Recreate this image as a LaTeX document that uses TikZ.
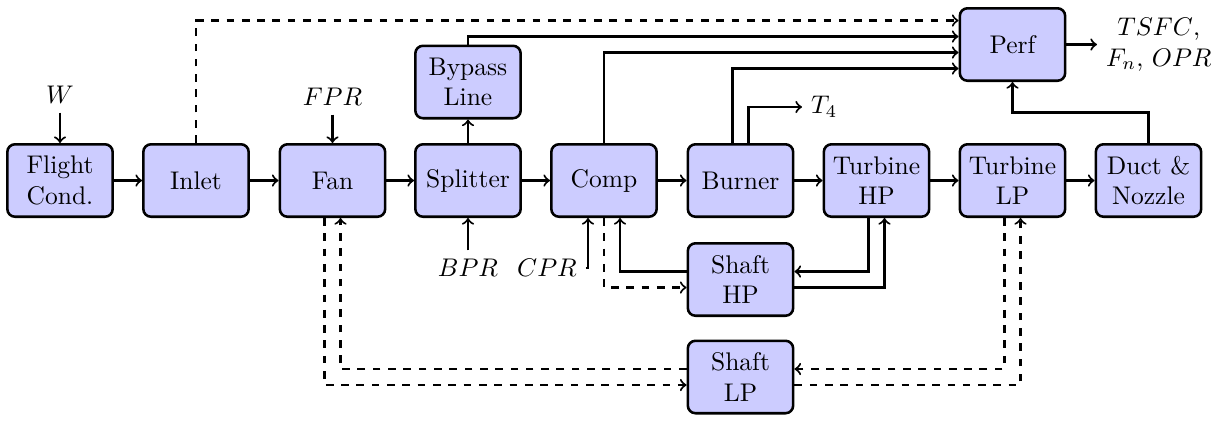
\documentclass[tikz,border=0pt]{standalone}
\usetikzlibrary{calc}
\begin{document}
\begin{tikzpicture}[x=0.392pt,y=-0.392pt,
  blk/.style={draw, line width=1pt, fill=blue!20, rounded corners=3pt,
    minimum width=41.3pt, minimum height=28.4pt, align=center, inner sep=2pt},
  conn/.style={line width=0.8pt, ->},
  lbl/.style={inner sep=3.33pt}]
\useasboundingbox (0,0) rectangle (1228,422);
% main row
\node[blk] (flight) at (60,180.5) {Flight\\Cond.};
\node[blk] (inlet) at (196,180.5) {Inlet};
\node[blk] (fan) at (332.5,180.5) {Fan};
\node[blk] (split) at (468,180.5) {Splitter};
\node[blk] (comp) at (604,180.5) {Comp};
\node[blk] (burner) at (740.5,180.5) {Burner};
\node[blk] (thp) at (876.5,180.5) {Turbine\\HP};
\node[blk] (tlp) at (1012.5,180.5) {Turbine\\LP};
\node[blk] (duct) at (1148.5,180.5) {Duct \&\\Nozzle};
% others
\node[blk] (bypass) at (468,82) {Bypass\\Line};
\node[blk] (perf) at (1012.5,44.5) {Perf};
\node[blk] (shp) at (740.5,279.5) {Shaft\\HP};
\node[blk] (slp) at (740.5,377) {Shaft\\LP};
% labels
\node[lbl] (w) at (60,95) {$W$};
\node[lbl] (fpr) at (332.5,97) {$FPR$};
\node[lbl] (bpr) at (468,268) {$BPR$};
\node[lbl] (cpr) at (547,268) {$CPR$};
\node[lbl, anchor=west] (t4) at (802,107) {$T_4$};
\node[lbl, anchor=west, align=center] (out) at (1097,44.5) {$TSFC$,\\ $F_n$, $OPR$};
% main flow
\draw[conn] (w) -- (flight);
\draw[conn] (fpr) -- (fan);
\draw[conn] (flight) -- (inlet);
\draw[conn] (inlet) -- (fan);
\draw[conn] (fan) -- (split);
\draw[conn] (split) -- (comp);
\draw[conn] (comp) -- (burner);
\draw[conn] (burner) -- (thp);
\draw[conn] (thp) -- (tlp);
\draw[conn] (tlp) -- (duct);
\draw[conn] (split) -- (bypass);
% to perf
\draw[conn, dashed] (inlet.north) |- ($(perf.west)+(0,-24)$);
\draw[conn] (bypass.north) |- ($(perf.west)+(0,-8)$);
\draw[conn] (comp.north) |- ($(perf.west)+(0,8)$);
\draw[conn] ($(burner.north)+(-8,0)$) |- ($(perf.west)+(0,24)$);
\draw[conn] ($(burner.north)+(8,0)$) |- (t4.west);
\draw[conn] (perf) -- (out);
\draw[conn] (duct.north) -- ++(0,-30.5) -| (perf.south);
% inputs below
\draw[conn] (bpr) -- (split);
\draw[conn] (cpr.east) -| ($(comp.south)+(-16,0)$);
% HP shaft
\draw[conn, dashed] (comp.south) |- ($(shp.west)+(0,8)$);
\draw[conn] ($(shp.west)+(0,-8)$) -| ($(comp.south)+(16,0)$);
\draw[conn] ($(thp.south)+(-8,0)$) |- ($(shp.east)+(0,-8)$);
\draw[conn] ($(shp.east)+(0,8)$) -| ($(thp.south)+(8,0)$);
% LP shaft
\draw[conn, dashed] ($(fan.south)+(-8,0)$) |- ($(slp.west)+(0,8)$);
\draw[conn, dashed] ($(slp.west)+(0,-8)$) -| ($(fan.south)+(8,0)$);
\draw[conn, dashed] ($(tlp.south)+(-8,0)$) |- ($(slp.east)+(0,-8)$);
\draw[conn, dashed] ($(slp.east)+(0,8)$) -| ($(tlp.south)+(8,0)$);
\end{tikzpicture}
\end{document}
